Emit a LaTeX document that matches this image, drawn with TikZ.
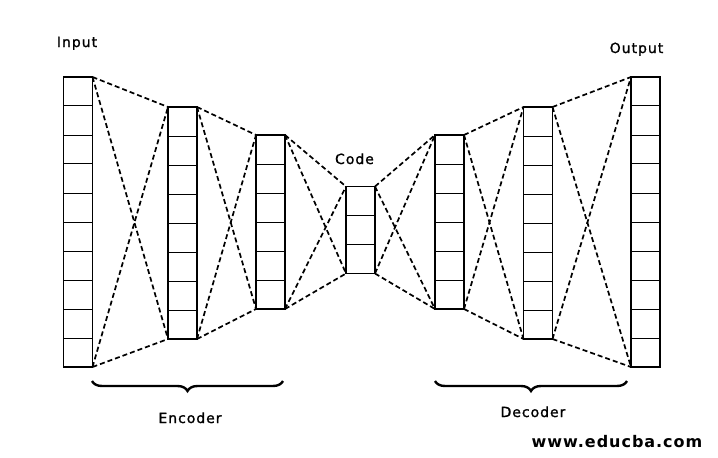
\documentclass[tikz,border=0pt]{standalone}
\usepackage{fontspec}
\setmainfont{DejaVu Sans}
\usetikzlibrary{decorations.pathreplacing,calc}
\newcommand\mycells[2]{\foreach \i in {1,...,#2} \draw[cellline] ($(#1.north west)!{\i/(#2+1)}!(#1.south west)$) -- ($(#1.north east)!{\i/(#2+1)}!(#1.south east)$);}
\begin{document}
\begin{tikzpicture}[x=1pt,y=-1pt,
  layerbox/.style={draw, line width=1.5pt, inner sep=0pt, outer sep=0pt, minimum width=29pt},
  cellline/.style={line width=1pt},
  conn/.style={line width=1.7pt, dash pattern=on 5pt off 3pt},
  lbl/.style={font=\fontsize{14}{16}\selectfont\addfontfeature{LetterSpace=7,FakeBold=1.2}, anchor=base, inner sep=0pt},
  web/.style={font=\fontsize{16}{18}\selectfont\bfseries\addfontfeature{LetterSpace=6}, anchor=base, inner sep=0pt},
  bracestyle/.style={decorate, decoration={brace, mirror, amplitude=10pt}, line width=2.4pt}]
\useasboundingbox (0,0) rectangle (718,458);
\node[layerbox, minimum height=290pt] (in) at (78,222) {};
\node[layerbox, minimum height=232pt] (e1) at (182.5,223) {};
\node[layerbox, minimum height=174pt] (e2) at (270.5,222) {};
\node[layerbox, minimum height=87pt] (code) at (360.5,230) {};
\node[layerbox, minimum height=174pt] (d1) at (449.5,222) {};
\node[layerbox, minimum height=232pt] (d2) at (538,223) {};
\node[layerbox, minimum height=290pt] (out) at (645.5,222) {};
\mycells{in}{9}
\mycells{e1}{7}
\mycells{e2}{5}
\mycells{code}{2}
\mycells{d1}{5}
\mycells{d2}{7}
\mycells{out}{9}
\foreach \a/\b in {in/e1, e1/e2, e2/code, code/d1, d1/d2, d2/out}{
  \draw[conn] (\a.north east) -- (\b.north west);
  \draw[conn] (\a.north east) -- (\b.south west);
  \draw[conn] (\a.south east) -- (\b.north west);
  \draw[conn] (\a.south east) -- (\b.south west);
}
\node[lbl] (tin) at (77,47) {Input};
\node[lbl] (tout) at (636.5,53) {Output};
\node[lbl] (tcode) at (354.5,164) {Code};
\coordinate (ea) at (92,381);
\coordinate (eb) at (283,381);
\coordinate (da) at (435,381);
\coordinate (db) at (627,381);
\draw[bracestyle] (ea) -- (eb);
\draw[bracestyle] (da) -- (db);
\node[lbl] (tenc) at (190,423) {Encoder};
\node[lbl] (tdec) at (533,417) {Decoder};
\node[web] (tweb) at (617,447) {www.educba.com};
\end{tikzpicture}
\end{document}
